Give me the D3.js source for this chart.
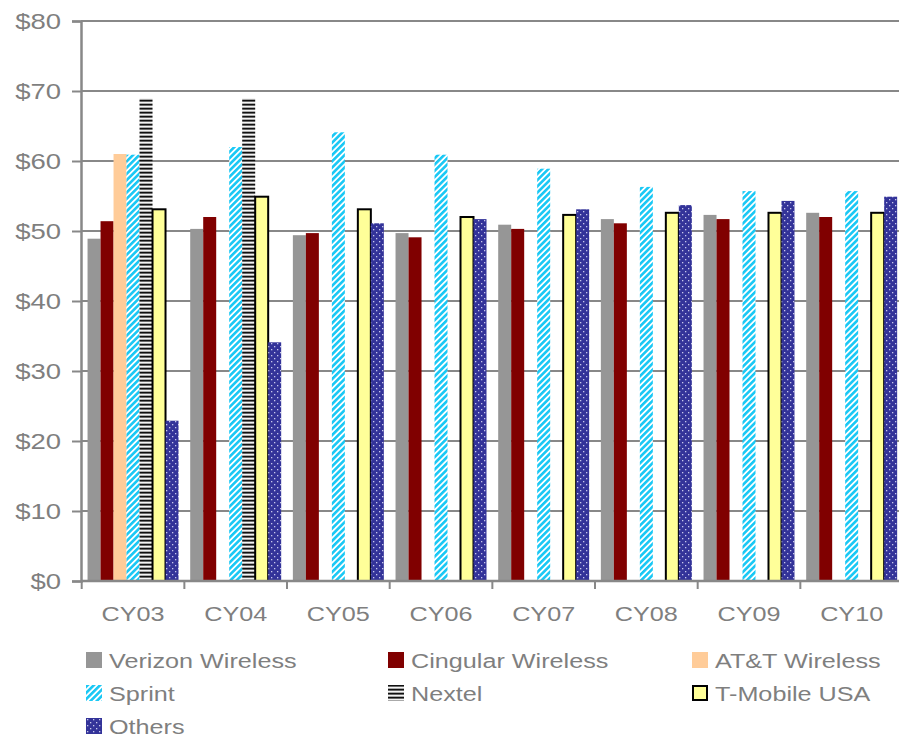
<!DOCTYPE html>
<html>
<head>
<meta charset="utf-8">
<script src="https://cdn.jsdelivr.net/npm/d3@7"></script>
<style>
  body { margin: 0; background: #fff; }
  text { font-family: "Liberation Sans", Arial, sans-serif; fill: #7f7f7f; }
</style>
</head>
<body>
<script>
var categories = ['CY03', 'CY04', 'CY05', 'CY06', 'CY07', 'CY08', 'CY09', 'CY10'];
var yTicks = [0, 10, 20, 30, 40, 50, 60, 70, 80];

var verizon  = [48.9, 50.3, 49.4, 49.7, 50.9, 51.7, 52.3, 52.6];
var cingular = [51.4, 52.0, 49.7, 49.1, 50.3, 51.1, 51.7, 52.0];
var att      = [61.0, null, null, null, null, null, null, null];
var sprint   = [60.9, 62.0, 64.1, 60.9, 58.9, 56.3, 55.7, 55.7];
var nextel   = [69.0, 69.0, null, null, null, null, null, null];
var tmobile  = [53.1, 54.9, 53.1, 52.0, 52.3, 52.6, 52.6, 52.6];
var others   = [22.9, 34.1, 51.1, 51.7, 53.1, 53.7, 54.3, 54.9];

var series = [
  {key: 'Verizon Wireless', values: verizon, fill: '#969696'},
  {key: 'Cingular Wireless', values: cingular, fill: '#800000'},
  {key: 'AT&T Wireless', values: att, fill: '#ffcc99'},
  {key: 'Sprint', values: sprint, fill: 'url(#sprint)'},
  {key: 'Nextel', values: nextel, fill: 'url(#nextel)'},
  {key: 'T-Mobile USA', values: tmobile, fill: '#ffff99', stroke: '#000'},
  {key: 'Others', values: others, fill: 'url(#others)'}
];

var width = 899, height = 737;
var stretch = 'scale(1.2,1)';   // text in the original is drawn wide

var svg = d3.select('body').append('svg')
    .attr('width', width)
    .attr('height', height);

// patterns
var defs = svg.append('defs');

var pSprint = defs.append('pattern')
    .attr('id', 'sprint')
    .attr('patternUnits', 'userSpaceOnUse')
    .attr('width', 4.4).attr('height', 4.4)
    .attr('patternTransform', 'rotate(45)');
pSprint.append('rect').attr('width', 4.4).attr('height', 4.4).attr('fill', '#fff');
pSprint.append('rect').attr('width', 2.6).attr('height', 4.4).attr('fill', '#19c8f5');

var pNextel = defs.append('pattern')
    .attr('id', 'nextel')
    .attr('patternUnits', 'userSpaceOnUse')
    .attr('width', 4).attr('height', 4);
[['#111', 0], ['#6a6a6a', 1], ['#f4f4f4', 2], ['#aaa', 3]].forEach(function(r) {
  pNextel.append('rect').attr('y', r[1]).attr('width', 4).attr('height', 1).attr('fill', r[0]);
});

var pOthers = defs.append('pattern')
    .attr('id', 'others')
    .attr('patternUnits', 'userSpaceOnUse')
    .attr('width', 6).attr('height', 6);
pOthers.append('rect').attr('width', 6).attr('height', 6).attr('fill', '#333399');
pOthers.append('rect').attr('x', 1).attr('y', 1).attr('width', 1.3).attr('height', 1.3).attr('fill', '#c8c8ec');
pOthers.append('rect').attr('x', 4).attr('y', 4).attr('width', 1.3).attr('height', 1.3).attr('fill', '#c8c8ec');

var x = d3.scaleBand()
    .domain(categories)
    .range([81.7, 903]);

var xInner = d3.scaleBand()
    .domain(series.map(function(s) { return s.key; }))
    .range([0, x.bandwidth()])
    .paddingInner(0)
    .paddingOuter(0.45);

var y = d3.scaleLinear()
    .domain([0, 80])
    .range([581, 21]);

// gridlines
svg.append('g')
  .selectAll('line')
  .data(yTicks.filter(function(d) { return d > 0; }))
  .enter().append('line')
    .attr('x1', 81).attr('x2', 903)
    .attr('y1', function(d) { return y(d); })
    .attr('y2', function(d) { return y(d); })
    .attr('stroke', '#888')
    .attr('stroke-width', 2);

// bars
series.forEach(function(s) {
  svg.append('g')
    .selectAll('rect')
    .data(s.values.map(function(v, i) { return {cat: categories[i], v: v}; })
      .filter(function(d) { return d.v != null; }))
    .enter().append('rect')
      .attr('x', function(d) { return x(d.cat) + xInner(s.key); })
      .attr('y', function(d) { return y(d.v); })
      .attr('width', xInner.bandwidth())
      .attr('height', function(d) { return y(0) - y(d.v); })
      .attr('fill', s.fill)
      .attr('stroke', s.stroke || 'none')
      .attr('stroke-width', s.stroke ? 2 : 0);
});

// y axis
var yAxis = svg.append('g')
    .attr('transform', 'translate(81,0)')
    .call(d3.axisLeft(y).tickValues(yTicks).tickSize(9).tickPadding(11)
      .tickFormat(function(d) { return '$' + d; }));
yAxis.select('.domain').attr('stroke', '#888').attr('stroke-width', 2.5);
yAxis.selectAll('.tick line').attr('stroke', '#888').attr('stroke-width', 2);
yAxis.selectAll('.tick text')
    .attr('x', 0)
    .attr('transform', 'translate(-20,0) scale(1.25,1)')
    .attr('font-size', '22px')
    .style('fill', '#7f7f7f');

// x axis
var xAxis = svg.append('g')
    .attr('transform', 'translate(0,581)')
    .call(d3.axisBottom(x).tickSize(0).tickPadding(25));
xAxis.select('.domain').remove();
xAxis.selectAll('.tick text')
    .attr('transform', stretch)
    .attr('font-size', '21px')
    .style('fill', '#7f7f7f');
xAxis.append('line')
    .attr('x1', 81).attr('x2', 903)
    .attr('stroke', '#888').attr('stroke-width', 2.5);
xAxis.selectAll('.bound')
  .data(categories.map(function(c) { return x(c); }))
  .enter().append('line')
    .attr('class', 'bound')
    .attr('x1', function(d) { return d; })
    .attr('x2', function(d) { return d; })
    .attr('y1', 0).attr('y2', 8)
    .attr('stroke', '#888').attr('stroke-width', 2);

// legend
var legendCols = [86, 388, 692];
var legend = svg.append('g');
series.forEach(function(s, i) {
  var row = Math.floor(i / 3), col = i % 3;
  var g = legend.append('g')
      .attr('transform', 'translate(' + legendCols[col] + ',' + (652 + row * 33) + ')');
  g.append('rect')
      .attr('x', s.stroke ? 1 : 0).attr('y', s.stroke ? 1 : 0)
      .attr('width', s.stroke ? 14 : 16).attr('height', s.stroke ? 14 : 16)
      .attr('fill', s.fill)
      .attr('stroke', s.stroke || 'none')
      .attr('stroke-width', s.stroke ? 2 : 0);
  g.append('text')
      .attr('transform', 'translate(23,15.5) ' + stretch)
      .attr('font-size', '21px')
      .text(s.key);
});
</script>
</body>
</html>
